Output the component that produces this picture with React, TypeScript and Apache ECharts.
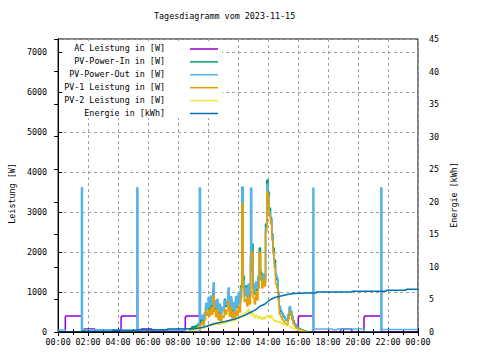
import React, { useEffect, useRef } from "react";
import * as echarts from "echarts";

const TITLE = "Tagesdiagramm vom 2023-11-15";
const LEFT_AXIS_NAME = "Leistung [W]";
const RIGHT_AXIS_NAME = "Energie [kWh]";
const SERIES_NAMES = [
  "AC Leistung in [W]",
  "PV-Power-In in [W]",
  "PV-Power-Out in [W]",
  "PV-1 Leistung in [W]",
  "PV-2 Leistung in [W]",
  "Energie in [kWh]",
];
const SERIES_COLORS = ["#9400d3", "#009e73", "#56b4e9", "#e69f00", "#f0e442", "#0072b2"];

// AC power (W), change points
const acPower: [string, number][] = [
  ["00:00", 0], ["00:29", 375], ["00:31", 400], ["01:35", 3620], ["01:35:30", 2000], ["01:36", 0],
  ["01:44", 75], ["02:27", 0],
  ["04:12", 375], ["04:15", 400], ["05:17", 3620], ["05:17:30", 2000], ["05:18", 0],
  ["05:32", 75], ["06:15", 0],
  ["08:29", 375], ["08:32", 400], ["09:26", 2000], ["09:27", 0],
  ["16:01", 375], ["16:04", 400], ["17:01", 2000], ["17:02", 0],
  ["18:51", 75], ["19:35", 0],
  ["20:24", 375], ["20:27", 400], ["21:33", 3620], ["21:33:30", 2000], ["21:34", 0],
  ["24:00", 0],
];

// PV-Power-Out (W) outside the daytime window
const pvOutBefore: [string, number][] = [
  ["00:00", 50], ["00:29", 0], ["01:33:30", 3600], ["01:37:30", 55], ["04:12", 0],
  ["05:15:30", 3600], ["05:19:30", 45], ["08:29", 0],
];
const pvOutAfter: [string, number][] = [
  ["16:45", 0], ["16:59:30", 3600], ["17:03:30", 75], ["18:18", 55], ["18:36", 75],
  ["20:24", 0], ["21:31:30", 3600], ["21:35:30", 65], ["24:00", 65],
];

// Daytime samples, every 5 minutes from 08:40
const DAY_START = "08:40";
const DAY_STEP_MIN = 5;
const pvOutDay = [
  0, 0, 0, 0, 0, 0, 0, 0, 0, 3600,
  340, 420, 300, 480, 720, 560, 870, 640, 900, 700,
  1230, 780, 600, 820, 520, 700, 460, 620, 540, 780,
  680, 760, 1100, 620, 880, 560, 740, 500, 890, 640,
  980, 700, 1100, 3600, 1300, 900, 1100, 850, 1200, 950,
  3600, 1500, 1200, 1000, 1250, 1100, 1400, 1600, 1300, 1200,
  1450, 1300, 2600, 3700, 3400, 3000, 2800, 2400, 2000, 1700,
  1450, 1350, 1000, 650, 550, 480, 420, 380, 320, 300,
  450, 640, 500, 380, 250, 200, 150, 120, 80, 60,
  50, 40, 30, 20, 0, 0, 0,
];
const pvInDay = [
  0, 40, 90, 130, 100, 150, 120, 170, 200, 230,
  290, 370, 270, 430, 640, 590, 720, 560, 780, 620,
  1080, 700, 560, 760, 480, 650, 450, 580, 560, 820,
  640, 740, 960, 600, 820, 520, 700, 540, 760, 620,
  900, 760, 1150, 3620, 1400, 1000, 1150, 950, 1150, 880,
  1900, 2200, 1100, 950, 1200, 1050, 1350, 2100, 1500, 1250,
  1400, 1250, 2700, 3800, 3500, 3100, 2850, 2450, 2100, 1800,
  1400, 1300, 950, 600, 500, 450, 380, 350, 300, 280,
  420, 600, 520, 400, 280, 220, 170, 140, 100, 80,
  60, 50, 40, 30, 20, 0, 0,
];
const pv1Day = [
  0, 20, 40, 60, 50, 80, 70, 100, 120, 140,
  190, 250, 170, 300, 520, 420, 540, 400, 600, 450,
  900, 520, 380, 570, 300, 450, 280, 400, 360, 560,
  450, 540, 760, 400, 600, 350, 480, 300, 520, 420,
  650, 500, 850, 3200, 1100, 760, 820, 650, 900, 700,
  1700, 2000, 850, 700, 1000, 800, 1100, 2000, 1400, 1100,
  1300, 1150, 2500, 3500, 3300, 2900, 2700, 2300, 1950, 1600,
  1200, 1100, 800, 450, 380, 320, 280, 240, 200, 180,
  330, 500, 420, 300, 200, 150, 110, 90, 60, 50,
  40, 30, 20, 15, 10, 0, 0,
];
const pv2Day = [
  0, 10, 30, 40, 30, 50, 40, 60, 70, 80,
  100, 120, 90, 130, 150, 140, 170, 150, 190, 160,
  220, 180, 200, 230, 190, 240, 200, 250, 220, 270,
  230, 280, 260, 300, 270, 290, 320, 280, 330, 360,
  340, 390, 420, 380, 450, 410, 480, 520, 560, 470,
  430, 480, 400, 360, 420, 380, 340, 390, 350, 310,
  360, 330, 380, 420, 400, 360, 410, 330, 300, 270,
  290, 250, 240, 260, 220, 230, 190, 200, 170, 150,
  140, 130, 120, 100, 80, 70, 60, 50, 40, 30,
  20, 20, 10, 10, 0, 0, 0,
];

// Energy (kWh), right axis
const energy: [string, number][] = [
  ["00:00", 0.02], ["01:36", 0.02], ["01:38", 0.1], ["03:36", 0.1], ["03:38", 0.25],
  ["05:18", 0.25], ["05:20", 0.35], ["07:16", 0.35], ["07:18", 0.46], ["09:00", 0.48],
  ["09:28", 0.6], ["09:48", 0.8], ["10:08", 1.08], ["10:28", 1.3], ["10:48", 1.47],
  ["11:08", 1.62], ["11:28", 1.8], ["11:48", 2.0], ["12:08", 2.28], ["12:28", 2.6],
  ["12:48", 3.0], ["13:08", 3.35], ["13:28", 3.95], ["13:48", 4.3], ["14:08", 4.95],
  ["14:28", 5.3], ["14:48", 5.5], ["15:08", 5.68], ["15:28", 5.85], ["15:48", 5.9],
  ["16:08", 5.95], ["16:30", 5.98], ["17:12", 5.98], ["17:14", 6.13], ["19:33", 6.13],
  ["19:35", 6.24], ["21:52", 6.24], ["21:54", 6.4], ["23:12", 6.4], ["23:14", 6.55],
  ["24:00", 6.55],
];

const X_MIN = 0;
const X_MAX = 24;
const X_INTERVAL = 2;
const LEFT_MAX = 7330;
const LEFT_INTERVAL = 1000;
const RIGHT_MAX = 45;
const RIGHT_INTERVAL = 5;

const FONT = "DejaVu Sans Mono";
const FS = 8.4;

function toHour(s: string): number {
  const [h, m, sec] = s.split(":").map(Number);
  return h + m / 60 + (sec || 0) / 3600;
}
function pairs(list: [string, number][]): [number, number][] {
  return list.map(([t, v]) => [toHour(t), v]);
}
function daySeries(values: number[]): [number, number][] {
  const start = toHour(DAY_START);
  return values.map((v, i) => [start + (i * DAY_STEP_MIN) / 60, v]);
}

export default function App() {
  const ref = useRef<HTMLDivElement>(null);
  useEffect(() => {
    if (!ref.current) return;
    const chart = echarts.init(ref.current, null, { renderer: "svg" });
    const gridColor = "#a0a0a0";
    const txt = { fontFamily: FONT, fontSize: FS, color: "#000" };
    const lineSeries = (idx: number, data: [number, number][], yIndex = 0, step: any = "end") => ({
      name: SERIES_NAMES[idx],
      type: "line",
      data,
      yAxisIndex: yIndex,
      step,
      symbol: "none",
      showSymbol: false,
      z: 5,
      lineStyle: { color: SERIES_COLORS[idx], width: 1.5 },
      itemStyle: { color: SERIES_COLORS[idx] },
      emphasis: { disabled: true },
    });
    const graphics: any[] = [];
    // opaque key box (hides grid lines behind the key)
    graphics.push({
      type: "rect",
      z: 1,
      shape: { x: 63, y: 41, width: 159, height: 77 },
      style: { fill: "#fff" },
    });
    SERIES_NAMES.forEach((n, i) => {
      const y = 49 + i * 12.9;
      graphics.push({
        type: "text",
        z: 6,
        x: 165,
        y: y - 1,
        style: { text: n, textAlign: "right", textVerticalAlign: "middle", font: `${FS}px "${FONT}"`, fill: "#000" },
      });
      graphics.push({
        type: "line",
        z: 6,
        shape: { x1: 190, y1: y, x2: 218, y2: y },
        style: { stroke: SERIES_COLORS[i], lineWidth: 1.5 },
      });
    });
    // bottom border drawn over the zero-valued lines, like the original plotter does
    graphics.push({
      type: "line",
      z: 100,
      shape: { x1: 58, y1: 332.2, x2: 418, y2: 332.2 },
      style: { stroke: "#000", lineWidth: 1.6 },
    });
    chart.setOption({
      animation: false,
      backgroundColor: "#fff",
      title: {
        text: TITLE,
        left: 154,
        top: 12,
        padding: 0,
        textStyle: { ...txt, fontWeight: "normal" },
      },
      grid: { left: 58, right: 62, top: 39, bottom: 28, show: true, borderColor: "#000", borderWidth: 1 },
      xAxis: [
        {
          type: "value",
          min: X_MIN,
          max: X_MAX,
          interval: X_INTERVAL,
          position: "bottom",
          axisLine: { show: true, lineStyle: { color: "#000" } },
          axisTick: { show: true, inside: true, length: 4, lineStyle: { color: "#000" } },
          minorTick: { show: true, splitNumber: 2, length: 3, lineStyle: { color: "#000" } },
          axisLabel: {
            ...txt,
            margin: 6,
            formatter: (v: number) => String(Math.round(v) % 24).padStart(2, "0") + ":00",
          },
          splitLine: { show: true, lineStyle: { color: gridColor, type: [3, 3], width: 1 } },
        },
        {
          type: "value",
          min: X_MIN,
          max: X_MAX,
          interval: X_INTERVAL,
          position: "top",
          axisLine: { show: true, lineStyle: { color: "#000" } },
          axisTick: { show: true, inside: true, length: 4, lineStyle: { color: "#000" } },
          minorTick: { show: true, splitNumber: 2, length: 3, lineStyle: { color: "#000" } },
          axisLabel: { show: false },
          splitLine: { show: false },
        },
      ],
      yAxis: [
        {
          type: "value",
          min: 0,
          max: LEFT_MAX,
          interval: LEFT_INTERVAL,
          position: "left",
          name: LEFT_AXIS_NAME,
          nameLocation: "middle",
          nameRotate: 90,
          nameGap: 41,
          nameTextStyle: { ...txt, padding: [0, 16, 0, 0] },
          axisLine: { show: true, lineStyle: { color: "#000" } },
          axisTick: { show: true, inside: true, length: 4, lineStyle: { color: "#000" } },
          axisLabel: { ...txt, margin: 11, showMaxLabel: false, formatter: (v: number) => String(v) },
          splitLine: { show: true, lineStyle: { color: gridColor, type: [3, 3], width: 1 } },
        },
        {
          type: "value",
          min: 0,
          max: RIGHT_MAX,
          interval: RIGHT_INTERVAL,
          position: "right",
          name: RIGHT_AXIS_NAME,
          nameLocation: "middle",
          nameRotate: 90,
          nameGap: 29,
          nameTextStyle: { ...txt, padding: [0, 19, 0, 0] },
          axisLine: { show: true, lineStyle: { color: "#000" } },
          axisTick: { show: true, inside: true, length: 4, lineStyle: { color: "#000" } },
          axisLabel: { ...txt, margin: 11, formatter: (v: number) => String(v) },
          splitLine: { show: false },
        },
      ],
      graphic: graphics,
      series: [
        lineSeries(0, pairs(acPower)),
        lineSeries(1, daySeries(pvInDay)),
        lineSeries(2, [...pairs(pvOutBefore), ...daySeries(pvOutDay), ...pairs(pvOutAfter)]),
        lineSeries(3, daySeries(pv1Day)),
        lineSeries(4, daySeries(pv2Day)),
        lineSeries(5, pairs(energy), 1, false),
      ],
    });
    return () => chart.dispose();
  }, []);
  return <div ref={ref} style={{ position: "fixed", left: 0, top: 0, width: 480, height: 360 }} />;
}
